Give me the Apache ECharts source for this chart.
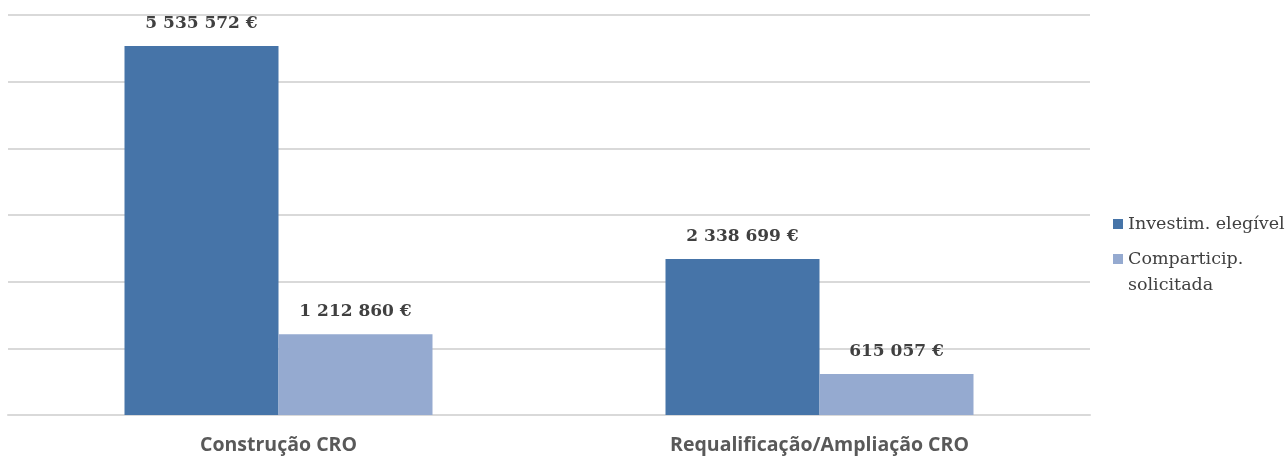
<!DOCTYPE html>
<html><head><meta charset="utf-8">
<script src="https://cdn.jsdelivr.net/npm/echarts@6/dist/echarts.min.js"></script>
<style>html,body{margin:0;padding:0;background:#fff}#c{width:1285px;height:457px}</style>
</head><body><div id="c"></div>
<script>
const categories = ['Construção CRO', 'Requalificação/Ampliação CRO'];
const seriesNames = ['Investim. elegível', 'Comparticip.\nsolicitada'];
const investimento = [5535572, 2338699];
const comparticipacao = [1212860, 615057];

function fmt(v){return String(v).replace(/\B(?=(\d{3})+(?!\d))/g,' ') + ' €';}
const labelStyle = {show:true, position:'top', distance:14, formatter:p=>fmt(p.value),
  fontFamily:'DejaVu Serif', fontWeight:'bold', fontSize:17, color:'#404040'};
const legendText = {fontFamily:'DejaVu Serif', fontSize:17.5, color:'#404040', lineHeight:26};
const chart = echarts.init(document.getElementById('c'));
chart.setOption({
  animation:false,
  grid:{left:8, right:195, top:15, bottom:42},
  legend:[
    {orient:'vertical', left:1108, top:206, itemWidth:10, itemHeight:10, itemGap:6,
      icon:'rect', textStyle:legendText, data:[seriesNames[0]]},
    {orient:'vertical', left:1108, top:241, itemWidth:10, itemHeight:36, itemGap:6,
      textStyle:legendText,
      data:[{name:seriesNames[1], icon:'path://M0,0h10v10h-10z M0,36h0.01v0.01h-0.01z'}]}
  ],
  xAxis:{type:'category', data:categories, axisTick:{show:false},
    axisLine:{lineStyle:{color:'#d9d9d9', width:2}},
    axisLabel:{fontFamily:'Open Sans', fontWeight:'bold', fontSize:19.5, color:'#595959', margin:20}},
  yAxis:{type:'value', min:0, max:6000000, interval:1000000, axisLabel:{show:false},
    splitLine:{lineStyle:{color:'#d9d9d9', width:2}}, axisLine:{show:false}, axisTick:{show:false}},
  series:[
    {name:seriesNames[0], type:'bar', data:investimento, barWidth:154, barGap:'0%',
      itemStyle:{color:'#4674a8'}, label:labelStyle},
    {name:seriesNames[1], type:'bar', data:comparticipacao, barWidth:154, barGap:'0%',
      itemStyle:{color:'#95aad0'}, label:labelStyle}
  ]
});
</script></body></html>
